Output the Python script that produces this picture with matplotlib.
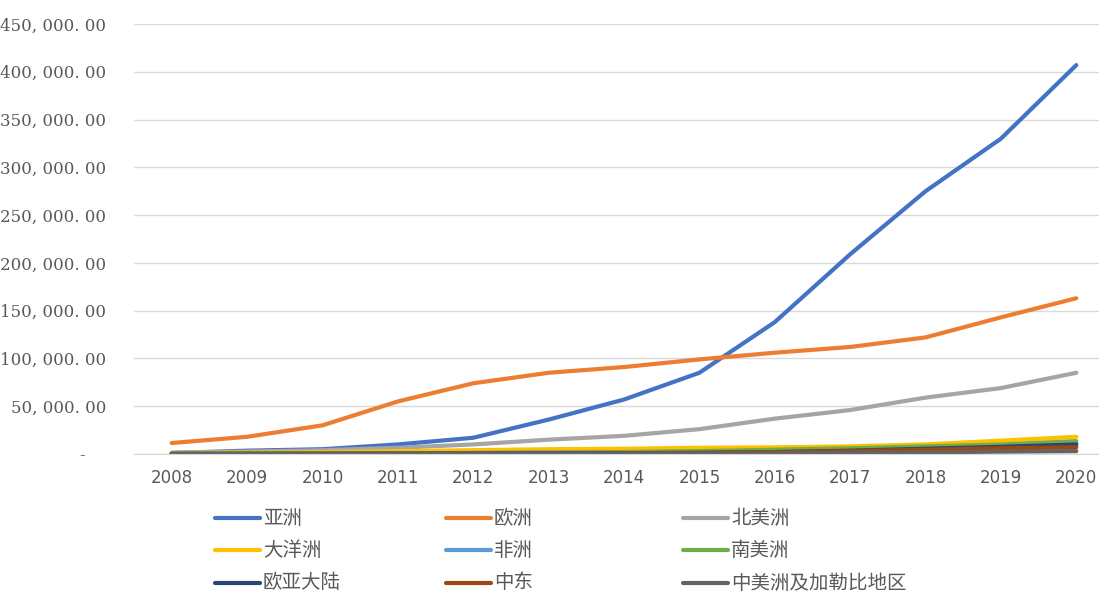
import matplotlib
matplotlib.use("Agg")
from matplotlib import pyplot as plt
from matplotlib.lines import Line2D
from matplotlib.ticker import FuncFormatter, MultipleLocator
from typing import List

plt.rcParams['font.family'] = ['Noto Sans CJK SC', 'DejaVu Sans']

years: List[int] = list(range(2008, 2021))
regions: List[str] = ["亚洲", "欧洲", "北美洲", "大洋洲", "非洲", "南美洲",
                      "欧亚大陆", "中东", "中美洲及加勒比地区"]
asia: List[float] = [1000, 3500, 5000, 10000, 17000, 36000, 57000, 85000,
                     138000, 209000, 275000, 330000, 407000]
europe: List[float] = [11500, 18000, 30000, 55000, 74000, 85000, 91000, 99000,
                       106000, 112000, 122000, 143000, 163000]
north_america: List[float] = [1500, 2500, 4000, 6500, 10000, 15000, 19000, 26000,
                              37000, 46000, 59000, 69000, 85000]
oceania: List[float] = [1000, 1500, 2000, 3000, 4000, 5000, 5500, 6500,
                        7000, 8000, 10000, 14000, 18000]
africa: List[float] = [300, 400, 600, 800, 1200, 1500, 2000, 2500,
                       3000, 4000, 5500, 8000, 11000]
south_america: List[float] = [100, 200, 300, 500, 1000, 1500, 2000, 3000,
                              4500, 6000, 8000, 10000, 13500]
eurasia: List[float] = [100, 200, 300, 400, 500, 700, 900, 1200,
                        2000, 3500, 5500, 7500, 10000]
middle_east: List[float] = [100, 100, 150, 200, 300, 500, 800, 1200,
                            2000, 3000, 4500, 6000, 7000]
central_america: List[float] = [50, 100, 100, 150, 200, 300, 400, 600,
                                800, 1200, 1800, 2500, 3000]
colors: List[str] = ["#4472C4", "#ED7D31", "#A5A5A5", "#FFC000", "#5B9BD5",
                     "#70AD47", "#264478", "#9E480E", "#636363"]

series = [asia, europe, north_america, oceania, africa, south_america,
          eurasia, middle_east, central_america]

W, H = 1099, 592
fig = plt.figure(figsize=(W / 100, H / 100), dpi=100)
ax = fig.add_axes([134 / W, (H - 454) / H, (1114 - 134) / W, 430 / H])

for values, color in zip(series, colors):
    ax.plot(years, values, color=color, linewidth=3, solid_capstyle='round',
            solid_joinstyle='round')

ax.set_xlim(2007.5, 2020.5)
ax.set_ylim(0, 450000)
ax.yaxis.set_major_locator(MultipleLocator(50000))
ax.set_xticks(years)


def money(v, pos):
    if v == 0:
        return "-    "
    return f"{v:,.2f}".replace(",", ", ").replace(".", ". ")


ax.yaxis.set_major_formatter(FuncFormatter(money))
ax.grid(axis='y', color='#D9D9D9', linewidth=1)
ax.set_axisbelow(True)
for side in ['left', 'right', 'top']:
    ax.spines[side].set_visible(False)
ax.spines['bottom'].set_color('#D9D9D9')
ax.tick_params(axis='both', length=0, colors='#595959')
ax.tick_params(axis='y', pad=20)
ax.tick_params(axis='x', pad=11)
for lbl in ax.get_yticklabels():
    lbl.set_family(['DejaVu Serif'])
    lbl.set_fontsize(12)
for lbl in ax.get_xticklabels():
    lbl.set_family(['DejaVu Sans'])
    lbl.set_fontsize(12)

# legend, three columns filled row by row
col_x = [215, 446, 683]
row_y = [518, 550, 583]
for i, (name, color) in enumerate(zip(regions, colors)):
    x0 = col_x[i % 3]
    y0 = row_y[i // 3]
    fig.add_artist(Line2D([x0 / W, (x0 + 45) / W], [1 - y0 / H, 1 - y0 / H],
                          color=color, linewidth=3, solid_capstyle='round'))
    fig.text((x0 + 48) / W, 1 - y0 / H, name, fontsize=14, color='#595959',
             va='center', ha='left')

fig.savefig("out.png", dpi=100)
